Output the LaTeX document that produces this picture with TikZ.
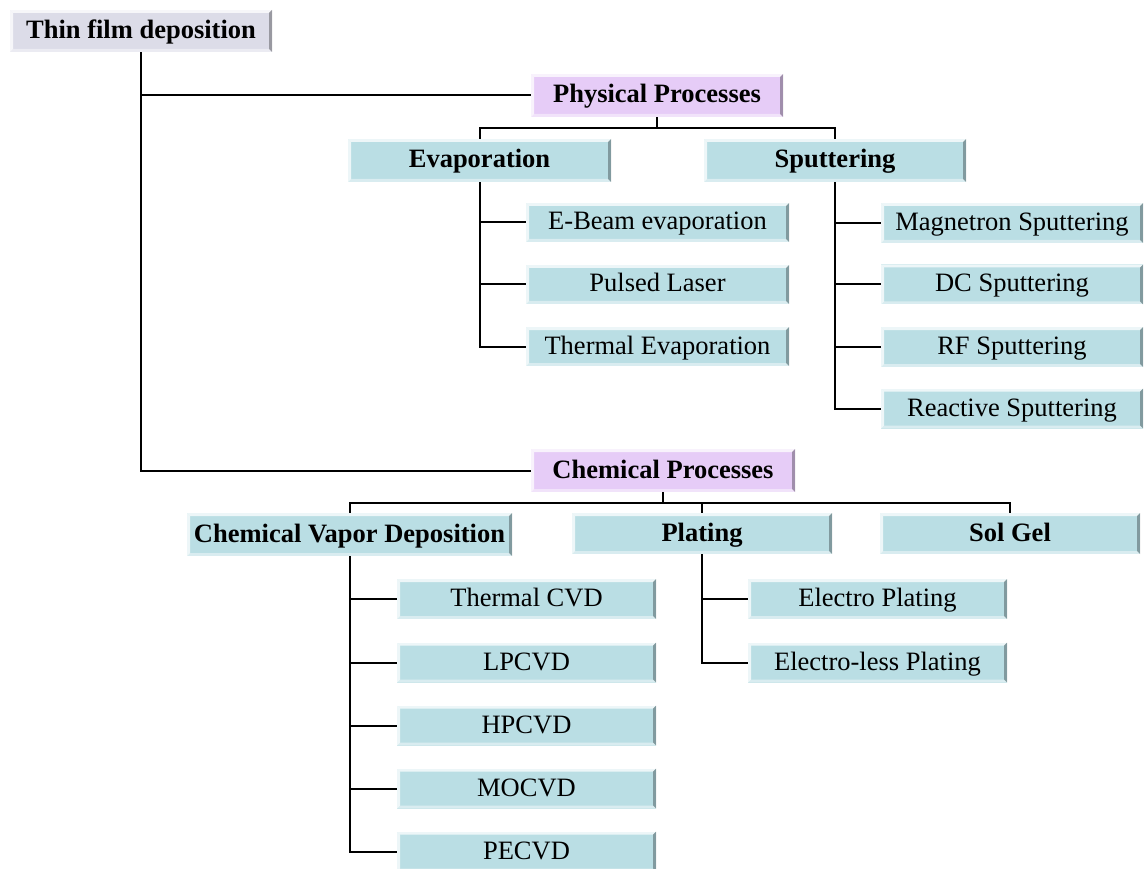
\documentclass[tikz,border=0pt]{standalone}
\usepackage{fontspec}
\setmainfont{Liberation Serif}
\definecolor{rootfill}{HTML}{DCDCE8}
\definecolor{procfill}{HTML}{E6CCF7}
\definecolor{leaffill}{HTML}{BADEE4}
\tikzset{
  bev/.style={inner sep=0pt, text height=18pt, text depth=3pt, font=\fontsize{26.5}{30}\selectfont,
    path picture={
      \fill[white,opacity=0.75] (path picture bounding box.north west) -- (path picture bounding box.north east)
        -- ([xshift=-3pt,yshift=-3pt]path picture bounding box.north east) -- ([xshift=3pt,yshift=-3pt]path picture bounding box.north west) -- cycle;
      \fill[white,opacity=0.75] (path picture bounding box.north west) -- ([xshift=3pt,yshift=-3pt]path picture bounding box.north west)
        -- ([xshift=3pt,yshift=3pt]path picture bounding box.south west) -- (path picture bounding box.south west) -- cycle;
      \fill[white,opacity=0.45] (path picture bounding box.south west) -- (path picture bounding box.south east)
        -- ([xshift=-3pt,yshift=3pt]path picture bounding box.south east) -- ([xshift=3pt,yshift=3pt]path picture bounding box.south west) -- cycle;
      \fill[black,opacity=0.3] (path picture bounding box.north east) -- (path picture bounding box.south east)
        -- ([xshift=-3pt,yshift=3pt]path picture bounding box.south east) -- ([xshift=-3pt,yshift=-3pt]path picture bounding box.north east) -- cycle;
    }},
  rootbox/.style={bev, fill=rootfill, font=\fontsize{26.5}{30}\selectfont\bfseries},
  procbox/.style={bev, fill=procfill, font=\fontsize{26.5}{30}\selectfont\bfseries},
  catbox/.style={bev, fill=leaffill, font=\fontsize{26.5}{30}\selectfont\bfseries},
  leafbox/.style={bev, fill=leaffill},
  conn/.style={line width=2pt, black}
}
\begin{document}
\begin{tikzpicture}[x=1pt,y=-1pt]
\useasboundingbox (0,0) rectangle (1144,869);
\node[rootbox, minimum width=262pt, minimum height=42pt] (root) at (141,31) {Thin film deposition};
\node[procbox, minimum width=252pt, minimum height=43pt] (phys) at (657,95.5) {Physical Processes};
\node[catbox, minimum width=263pt, minimum height=43pt] (evap) at (479.5,160.5) {Evaporation};
\node[catbox, minimum width=262pt, minimum height=43pt] (sput) at (835,160.5) {Sputtering};
\node[leafbox, minimum width=263pt, minimum height=39pt] (ebeam) at (657.5,222.5) {E-Beam evaporation};
\node[leafbox, minimum width=263pt, minimum height=39pt] (pulsed) at (657.5,284.5) {Pulsed Laser};
\node[leafbox, minimum width=263pt, minimum height=39pt] (thermev) at (657.5,346.5) {Thermal Evaporation};
\node[leafbox, minimum width=262pt, minimum height=40pt] (magn) at (1012,223) {Magnetron Sputtering};
\node[leafbox, minimum width=262pt, minimum height=40pt] (dc) at (1012,284.5) {DC Sputtering};
\node[leafbox, minimum width=262pt, minimum height=40pt] (rf) at (1012,347) {RF Sputtering};
\node[leafbox, minimum width=262pt, minimum height=40pt] (react) at (1012,408.5) {Reactive Sputtering};
\node[procbox, minimum width=264pt, minimum height=43pt] (chem) at (663,470.5) {Chemical Processes};
\node[catbox, minimum width=325pt, minimum height=43pt] (cvd) at (349.5,534.5) {Chemical Vapor Deposition};
\node[catbox, minimum width=260pt, minimum height=41pt] (plat) at (702,533.5) {Plating};
\node[catbox, minimum width=260pt, minimum height=41pt] (sol) at (1010,533.5) {Sol Gel};
\node[leafbox, minimum width=259pt, minimum height=40pt] (tcvd) at (526.5,599) {Thermal CVD};
\node[leafbox, minimum width=259pt, minimum height=40pt] (lp) at (526.5,662.5) {LPCVD};
\node[leafbox, minimum width=259pt, minimum height=40pt] (hp) at (526.5,725.5) {HPCVD};
\node[leafbox, minimum width=259pt, minimum height=40pt] (mo) at (526.5,788.5) {MOCVD};
\node[leafbox, minimum width=259pt, minimum height=40pt] (pe) at (526.5,851.5) {PECVD};
\node[leafbox, minimum width=259pt, minimum height=40pt] (ep) at (877.5,599) {Electro Plating};
\node[leafbox, minimum width=259pt, minimum height=40pt] (elp) at (877.5,662.5) {Electro-less Plating};
% connectors
\draw[conn] (root.south) |- (chem.west);
\draw[conn] (root.south) |- (phys.west);
\draw[conn] (phys.south) -- ++(0,11) -| (evap.north);
\draw[conn] (phys.south) -- ++(0,11) -| (sput.north);
\foreach \n in {ebeam,pulsed,thermev} \draw[conn] (evap.south) |- (\n.west);
\foreach \n in {magn,dc,rf,react} \draw[conn] (sput.south) |- (\n.west);
\draw[conn] (chem.south) -- ++(0,11) -| (cvd.north);
\draw[conn] (chem.south) -- ++(0,11) -| (plat.north);
\draw[conn] (chem.south) -- ++(0,11) -| (sol.north);
\foreach \n in {tcvd,lp,hp,mo,pe} \draw[conn] (cvd.south) |- (\n.west);
\foreach \n in {ep,elp} \draw[conn] (plat.south) |- (\n.west);
\end{tikzpicture}
\end{document}
